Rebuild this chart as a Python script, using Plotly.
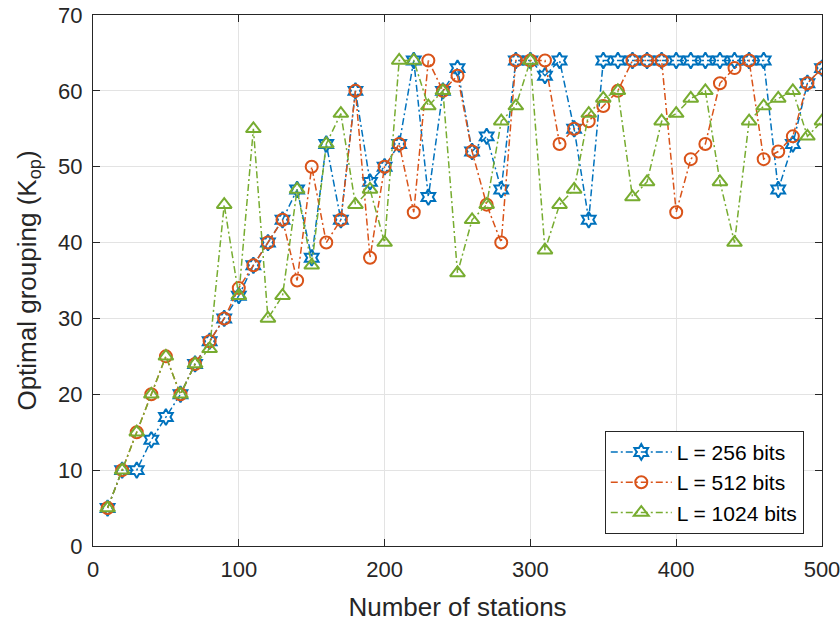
import plotly.graph_objects as go

stations = list(range(10, 501, 10))

k_256 = [5, 10, 10, 14, 17, 20, 24, 27, 30, 33,
         37, 40, 43, 47, 38, 53, 43, 60, 48, 50,
         53, 64, 46, 60, 63, 52, 54, 47, 64, 64,
         62, 64, 55, 43, 64, 64, 64, 64, 64, 64,
         64, 64, 64, 64, 64, 64, 47, 53, 61, 63]

k_512 = [5, 10, 15, 20, 25, 20, 24, 27, 30, 34,
         37, 40, 43, 35, 50, 40, 43, 60, 38, 50,
         53, 44, 64, 60, 62, 52, 45, 40, 64, 64,
         64, 53, 55, 56, 58, 60, 64, 64, 64, 44,
         51, 53, 61, 63, 64, 51, 52, 54, 61, 63]

k_1024 = [5, 10, 15, 20, 25, 20, 24, 26, 45, 33,
          55, 30, 33, 47, 37, 53, 57, 45, 47, 40,
          64, 64, 58, 60, 36, 43, 45, 56, 58, 64,
          39, 45, 47, 57, 59, 60, 46, 48, 56, 57,
          59, 60, 48, 40, 56, 58, 59, 60, 54, 56]

series = [
    ("L = 256 bits", k_256, "#0072BD", "hexagram-open", 12),
    ("L = 512 bits", k_512, "#D95319", "circle-open", 12),
    ("L = 1024 bits", k_1024, "#77AC30", "triangle-up-open", 13),
]

FONT = "Liberation Sans, Arial, Helvetica, sans-serif"

fig = go.Figure()
for name, vals, color, symbol, size in series:
    fig.add_trace(go.Scatter(
        x=stations, y=vals, name=name, mode="lines+markers",
        line=dict(color=color, width=1.5, dash="7px,3px,2px,3px"),
        marker=dict(symbol=symbol, size=size, color=color,
                    line=dict(color=color, width=2)),
    ))

axis_common = dict(
    showline=True, linecolor="#262626", linewidth=1, mirror="ticks",
    ticks="inside", ticklen=7, tickcolor="#262626",
    showgrid=True, gridcolor="#E3E3E3", gridwidth=1,
    zeroline=False, automargin=False, ticklabeloverflow="allow",
    tickfont=dict(family=FONT, size=22, color="#262626"),
)

fig.update_layout(
    width=840, height=623,
    margin=dict(l=93, r=18, t=15, b=77),
    paper_bgcolor="white", plot_bgcolor="white",
    font=dict(family=FONT, color="#262626"),
    xaxis=dict(range=[0, 500], tickvals=[0, 100, 200, 300, 400, 500],
               ticklabelstandoff=4,
               title=dict(text="Number of stations", font=dict(size=26), standoff=16),
               **axis_common),
    yaxis=dict(range=[0, 70], tickvals=list(range(0, 71, 10)),
               ticklabelstandoff=5,
               title=dict(text="Optimal grouping (K<sub>op</sub>)", font=dict(size=26), standoff=14),
               **axis_common),
    legend=dict(x=0.975, y=0.023, xanchor="right", yanchor="bottom",
                bgcolor="white", bordercolor="#262626", borderwidth=1,
                font=dict(family=FONT, size=21, color="#000000"),
                itemwidth=61, tracegroupgap=0),
    showlegend=True,
)

fig.write_html("out.html")
